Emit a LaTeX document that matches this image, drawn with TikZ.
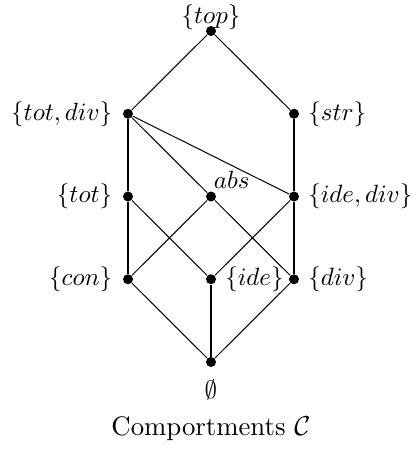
\documentclass[tikz,border=0pt]{standalone}
\usepackage{amsmath,amssymb}
\usepackage{tikz}
\usetikzlibrary{positioning}
\tikzset{
  elem/.style={circle, fill, inner sep=0pt, minimum size=4pt},
  link/.style={line width=0.4pt},
  strong/.style={line width=1pt},
  note/.style={align=center, font=\fontsize{10.7}{13}\selectfont},
  every label/.style={font=\fontsize{10.3}{12.5}\selectfont}
}
\begin{document}
\begin{tikzpicture}[x=33.2pt, y=33.1pt]
    \useasboundingbox (-84.4pt,-35.6pt) rectangle (82.4pt,144.8pt);
    % elements of the lattice
    \node[elem, label={[inner sep=0pt, label distance=-2pt]above:$\{top\}$}] (top) at (0,4) {};
    \node[elem, label={[label distance=0.6pt]left:$\{tot,div\}$}] (totdiv) at (-1,3) {};
    \node[elem, label={right:$\{str\}$}] (str) at (1,3) {};
    \node[elem, label={[label distance=0.6pt]left:$\{tot\}$}] (tot) at (-1,2) {};
    \node[elem, label={[anchor=south west, inner sep=1pt]north:$abs$}] (abs) at (0,2) {};
    \node[elem, label={right:$\{ide,div\}$}] (idediv) at (1,2) {};
    \node[elem, label={[label distance=0.6pt]left:$\{con\}$}] (con) at (-1,1) {};
    \node[elem, label={right:$\{ide\}$}] (ide) at (0,1) {};
    \node[elem, label={right:$\{div\}$}] (div) at (1,1) {};
    \node[elem, label={[label distance=1.5pt]below:$\emptyset$}] (bot) at (0,0) {};
    \node[note] (capt) at (0,-0.8) {Comportments $\mathcal{C}$};
    % order
    \draw[link] (top) -- (totdiv);
    \draw[link] (top) -- (str);
    \draw[strong] (totdiv) -- (tot);
    \draw[link] (totdiv) -- (abs);
    \draw[link] (totdiv) -- (idediv);
    \draw[strong] (str) -- (idediv);
    \draw[strong] (tot) -- (con);
    \draw[link] (tot) -- (ide);
    \draw[link] (abs) -- (con);
    \draw[link] (abs) -- (div);
    \draw[link] (idediv) -- (ide);
    \draw[strong] (idediv) -- (div);
    \draw[link] (con) -- (bot);
    \draw[strong] (ide) -- (bot);
    \draw[link] (div) -- (bot);
\end{tikzpicture}
\end{document}
